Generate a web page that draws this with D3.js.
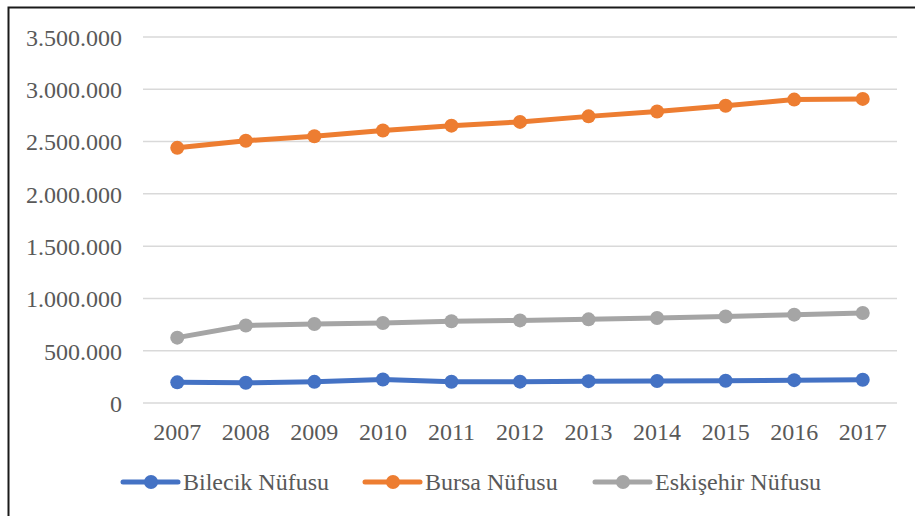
<!DOCTYPE html>
<html>
<head>
<meta charset="utf-8">
<script src="https://cdn.jsdelivr.net/npm/d3@7"></script>
<style>
  body { margin: 0; background: #fff; }
  svg { display: block; }
</style>
</head>
<body>
<svg id="chart" width="915" height="516"></svg>
<script>
// years on the x axis
let years = [2007, 2008, 2009, 2010, 2011, 2012, 2013, 2014, 2015, 2016, 2017];

// population values
let bilecik = [197625, 193169, 202061, 225381, 203849, 204116, 208888, 209925, 212361, 218297, 221693];
let bursa = [2439876, 2507963, 2550645, 2605495, 2652126, 2688171, 2740970, 2787539, 2842547, 2901396, 2908000];
let eskisehir = [625000, 741739, 755427, 764584, 781247, 789750, 799724, 812320, 826716, 844842, 860620];

let seriesNames = ['Bilecik Nüfusu', 'Bursa Nüfusu', 'Eskişehir Nüfusu'];
let seriesColors = ['#4472C4', '#ED7D31', '#A5A5A5'];
let yTicks = [0, 500000, 1000000, 1500000, 2000000, 2500000, 3000000, 3500000];

let serif = "'Liberation Serif', 'DejaVu Serif', serif";
let fontSize = '24px';

let svg = d3.select('#chart');

// frame: only top and left edges show in the reference
svg.append('path')
    .attr('d', 'M8.5,516 L8.5,7.5 L915,7.5')
    .attr('fill', 'none')
    .attr('stroke', '#1a1a1a')
    .attr('stroke-width', 2);

let plot = { left: 143, right: 897, top: 37, bottom: 403 };

let x = d3.scaleBand()
    .domain(years)
    .range([plot.left, plot.right]);
let y = d3.scaleLinear()
    .domain([0, 3500000])
    .range([plot.bottom, plot.top]);

// thousands separated with dots, as in the reference
let fmt = d3.formatLocale({ decimal: ',', thousands: '.', grouping: [3], currency: ['', ''] }).format(',');

// gridlines
svg.append('g')
    .selectAll('line')
    .data(yTicks)
    .enter().append('line')
        .attr('x1', plot.left)
        .attr('x2', plot.right)
        .attr('y1', d => y(d))
        .attr('y2', d => y(d))
        .attr('stroke', '#D9D9D9')
        .attr('stroke-width', 1.5);

// y axis labels
let yAxis = svg.append('g')
    .attr('transform', 'translate(' + (plot.left - 21) + ',0)')
    .call(d3.axisLeft(y).tickValues(yTicks).tickFormat(fmt).tickSize(0).tickPadding(0));
yAxis.select('.domain').remove();
yAxis.selectAll('text')
    .style('font-family', serif)
    .style('font-size', fontSize)
    .style('fill', '#595959')
    .attr('dy', '0.35em');

// x axis labels
let xAxis = svg.append('g')
    .attr('transform', 'translate(0,' + (plot.bottom + 19) + ')')
    .call(d3.axisBottom(x).tickSize(0).tickPadding(0));
xAxis.select('.domain').remove();
xAxis.selectAll('text')
    .style('font-family', serif)
    .style('font-size', fontSize)
    .style('fill', '#595959')
    .attr('dy', '0.75em');

let data = [bilecik, bursa, eskisehir];
let line = d3.line()
    .x((d, i) => x(years[i]) + x.bandwidth() / 2)
    .y(d => y(d));

let series = svg.append('g')
    .selectAll('g')
    .data(data)
    .enter().append('g');

series.append('path')
    .attr('d', line)
    .attr('fill', 'none')
    .attr('stroke', (d, i) => seriesColors[i])
    .attr('stroke-width', 5)
    .attr('stroke-linejoin', 'round');

series.each(function(vals, si) {
    d3.select(this).selectAll('circle')
        .data(vals)
        .enter().append('circle')
            .attr('cx', (d, i) => x(years[i]) + x.bandwidth() / 2)
            .attr('cy', d => y(d))
            .attr('r', 7)
            .attr('fill', seriesColors[si]);
});

// legend
let legendX = [123, 365, 595];
let legend = svg.append('g')
    .selectAll('g')
    .data(seriesNames)
    .enter().append('g')
        .attr('transform', (d, i) => 'translate(' + legendX[i] + ',482)');
legend.append('line')
    .attr('x1', 0).attr('x2', 55)
    .attr('y1', 0).attr('y2', 0)
    .attr('stroke', (d, i) => seriesColors[i])
    .attr('stroke-width', 5)
    .attr('stroke-linecap', 'round');
legend.append('circle')
    .attr('cx', 28).attr('cy', 0).attr('r', 7)
    .attr('fill', (d, i) => seriesColors[i]);
legend.append('text')
    .attr('x', 60)
    .attr('dy', '0.35em')
    .style('font-family', serif)
    .style('font-size', fontSize)
    .style('fill', '#595959')
    .text(d => d);
</script>
</body>
</html>
